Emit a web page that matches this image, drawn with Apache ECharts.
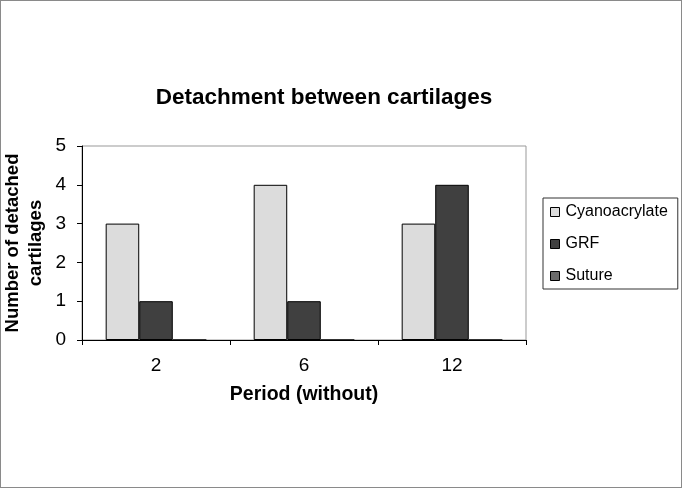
<!DOCTYPE html>
<html>
<head>
<meta charset="utf-8">
<script src="https://cdn.jsdelivr.net/npm/echarts@6/dist/echarts.min.js"></script>
<style>
html,body{margin:0;padding:0;background:#fff;}
#frame{position:absolute;left:0;top:0;width:682px;height:488px;box-sizing:border-box;border:1px solid #8a8a8a;}
#chart{position:absolute;left:0;top:0;width:682px;height:488px;}
</style>
</head>
<body>
<div id="frame"></div>
<div id="chart"></div>
<script>
const categories = ['2', '6', '12'];
const seriesNames = ['Cyanoacrylate', 'GRF', 'Suture'];
const cyanoacrylate = [3, 4, 3];
const grf = [1, 1, 4];
const suture = [0, 0, 0];
const colors = ['#dcdcdc', '#404040', '#6a6a6a'];
const font = 'Liberation Sans, Arial, sans-serif';

const chart = echarts.init(document.getElementById('chart'), null, {renderer: 'canvas'});
const mk = (name, data, color) => ({
  name: name,
  type: 'bar',
  data: data,
  barGap: '0%',
  barCategoryGap: '32%',
  itemStyle: {color: color, borderColor: '#000', borderWidth: 1},
  emphasis: {disabled: true}
});
chart.setOption({
  animation: false,
  backgroundColor: 'transparent',
  title: {
    text: 'Detachment between cartilages',
    left: 319, top: 81, textAlign: 'center',
    textStyle: {fontFamily: font, fontSize: 22.5, fontWeight: 'bold', color: '#000'}
  },
  legend: {
    orient: 'vertical',
    left: 543, top: 198,
    padding: [6, 10, 5, 7],
    borderColor: '#333', borderWidth: 1,
    itemWidth: 9, itemHeight: 9, itemGap: 16,
    icon: 'rect',
    itemStyle: {borderColor: '#000', borderWidth: 1},
    textStyle: {fontFamily: font, fontSize: 16, color: '#000', padding: [0, 0, 0, 1]},
    data: seriesNames
  },
  grid: {
    left: 82, right: 156, top: 146, bottom: 148,
    containLabel: false,
    outerBoundsMode: 'none',
    show: true, borderColor: '#999', borderWidth: 1
  },
  xAxis: {
    type: 'category',
    data: categories,
    name: 'Period (without)',
    nameLocation: 'middle',
    nameGap: 45,
    nameTextStyle: {fontFamily: font, fontSize: 19.5, fontWeight: 'bold', color: '#000'},
    axisLine: {lineStyle: {color: '#000', width: 1}},
    axisTick: {show: true, length: 5, lineStyle: {color: '#000'}},
    axisLabel: {fontFamily: font, fontSize: 19, color: '#000', margin: 16}
  },
  yAxis: {
    type: 'value',
    min: 0, max: 5, interval: 1,
    name: 'Number of detached\ncartilages',
    nameLocation: 'middle',
    nameGap: 35,
    nameMoveOverlap: false,
    nameTextStyle: {fontFamily: font, fontSize: 18.5, fontWeight: 'bold', color: '#000', lineHeight: 23},
    axisLine: {show: true, lineStyle: {color: '#000', width: 1}},
    axisTick: {show: true, length: 5, lineStyle: {color: '#000'}},
    splitLine: {show: false},
    axisLabel: {fontFamily: font, fontSize: 19, color: '#000', margin: 16}
  },
  series: [
    mk(seriesNames[0], cyanoacrylate, colors[0]),
    mk(seriesNames[1], grf, colors[1]),
    mk(seriesNames[2], suture, colors[2])
  ]
});
</script>
</body>
</html>
